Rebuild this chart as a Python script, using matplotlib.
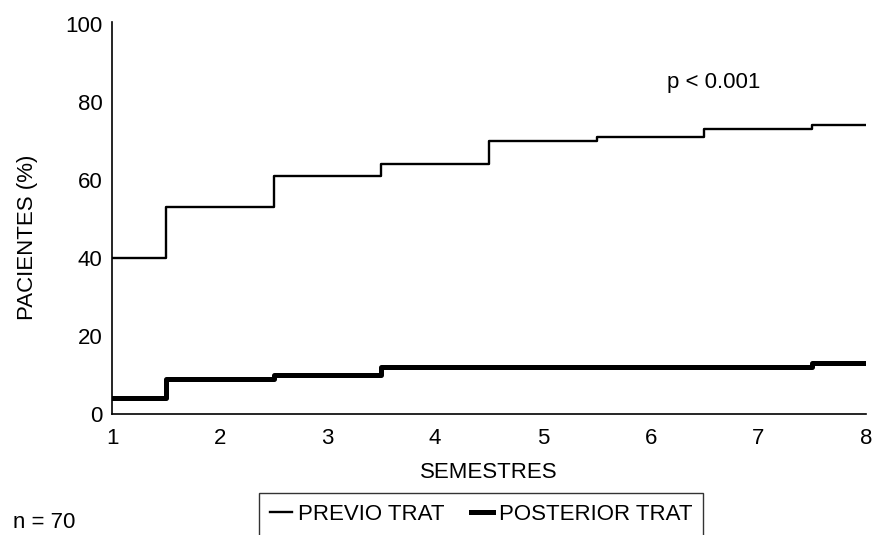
import numpy as np
import matplotlib.pyplot as plt

plt.rcParams['font.family'] = ['Liberation Sans', 'DejaVu Sans']

# datos
semestres = [1, 2, 3, 4, 5, 6, 7, 8]
previo = [40, 53, 61, 64, 70, 71, 73, 74]
posterior = [4, 9, 10, 12, 12, 12, 12, 13]
yticks = [0, 20, 40, 60, 80, 100]

fig = plt.figure(figsize=(8.76, 5.35), dpi=100)
ax = fig.add_axes([0.1279, 0.2262, 0.8607, 0.7327])

ax.plot(semestres, previo, drawstyle='steps-mid', color='black', lw=1.7, label='PREVIO TRAT')
ax.plot(semestres, posterior, drawstyle='steps-mid', color='black', lw=3.6, label='POSTERIOR TRAT')

ax.set_xlim(1, 8)
ax.set_ylim(0, 100.5)
ax.set_xticks(semestres)
ax.set_yticks(yticks)
ax.tick_params(length=0, labelsize=16)
ax.tick_params(axis='x', pad=10)
ax.tick_params(axis='y', pad=7)
ax.spines['top'].set_visible(False)
ax.spines['right'].set_visible(False)
ax.spines['left'].set_linewidth(1.2)
ax.spines['bottom'].set_linewidth(1.2)

ax.set_xlabel('SEMESTRES', fontsize=16)
ax.xaxis.set_label_coords(0.5, -0.122)
ax.set_ylabel('PACIENTES (%)', fontsize=16)
ax.yaxis.set_label_coords(-0.098, 0.45)

ax.text(6.15, 85, 'p < 0.001', fontsize=16, va='center', ha='left')

leg = fig.legend(loc='upper center', bbox_to_anchor=(0.549, 0.0785), ncol=2,
                 fontsize=16, frameon=True, fancybox=False, handlelength=1.0,
                 handletextpad=0.25, columnspacing=1.2, borderpad=0.5,
                 borderaxespad=0)
leg.get_frame().set_edgecolor('black')
leg.get_frame().set_linewidth(1.0)

fig.text(0.015, 0.004, 'n = 70', fontsize=16, va='bottom', ha='left')

fig.savefig('out.png', dpi=100)
